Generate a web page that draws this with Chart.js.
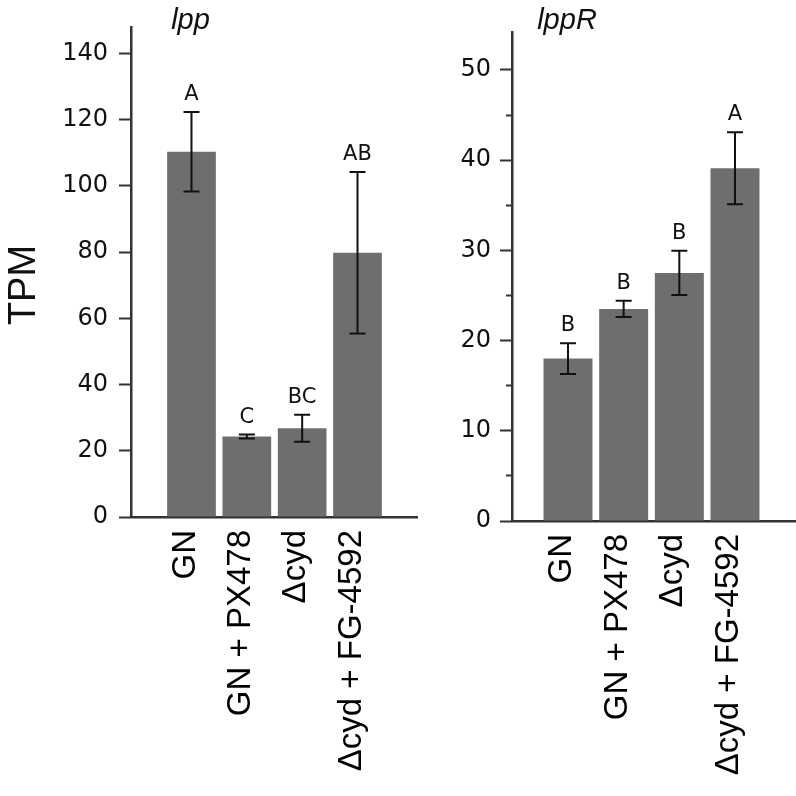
<!DOCTYPE html>
<html>
<head>
<meta charset="utf-8">
<script src="https://cdn.jsdelivr.net/npm/chart.js@4.4.0/dist/chart.umd.min.js"></script>
<style>
html, body { margin: 0; padding: 0; background: #fff; }
#wrap { position: relative; width: 796px; height: 796px; }
#left { position: absolute; left: 0; top: 0; }
#right { position: absolute; left: 420px; top: 0; }
</style>
</head>
<body>
<div id="wrap">
  <canvas id="left" width="420" height="796"></canvas>
  <canvas id="right" width="376" height="796"></canvas>
</div>
<script>
// categories shared by both panels
const categories = ['GN', 'GN + PX478', 'Δcyd', 'Δcyd + FG-4592'];

// lpp panel
const lppMean = [110.3, 24.3, 26.8, 79.8];
const lppErr = [12.0, 0.6, 4.1, 24.4];
const lppLetters = ['A', 'C', 'BC', 'AB'];
const lppTicks = [0, 20, 40, 60, 80, 100, 120, 140];

// lppR panel
const lppRMean = [18.0, 23.5, 27.5, 39.1];
const lppRErr = [1.7, 0.9, 2.45, 4.0];
const lppRLetters = ['B', 'B', 'B', 'A'];
const lppRTicks = [0, 10, 20, 30, 40, 50];
const lppRMinor = [5, 15, 25, 35, 45];

const AXIS = '#333333';
const BAR = '#6e6e6e';

Chart.defaults.font.family = 'DejaVu Sans';
Chart.defaults.color = '#111';

// error bars, significance letters, panel title (and TPM on the left one)
function extras(means, errs, letters, title, yTitle) {
    return {
        id: 'extras',
        afterDatasetsDraw(chart) {
            const ctx = chart.ctx;
            const bars = chart.getDatasetMeta(0).data;
            const y = chart.scales.y;
            ctx.save();
            ctx.strokeStyle = '#111';
            ctx.fillStyle = '#111';
            ctx.lineWidth = 2;
            bars.forEach((bar, i) => {
                const top = y.getPixelForValue(means[i] + errs[i]);
                const bot = y.getPixelForValue(means[i] - errs[i]);
                ctx.beginPath();
                ctx.moveTo(bar.x, top); ctx.lineTo(bar.x, bot);
                ctx.moveTo(bar.x - 8, top); ctx.lineTo(bar.x + 8, top);
                ctx.moveTo(bar.x - 8, bot); ctx.lineTo(bar.x + 8, bot);
                ctx.stroke();
                ctx.font = '21px "DejaVu Sans"';
                ctx.textAlign = 'center';
                ctx.textBaseline = 'alphabetic';
                ctx.fillText(letters[i], bar.x, top - 12);
            });
            ctx.font = 'italic 29px "Liberation Sans"';
            ctx.textAlign = 'center';
            ctx.fillText(title, bars[0].x - 1, 29);
            if (yTitle) {
                ctx.translate(35, 285);
                ctx.rotate(-Math.PI / 2);
                ctx.font = '38px "Liberation Sans"';
                ctx.fillText(yTitle, 0, 0);
            }
            ctx.restore();
        }
    };
}

function makeChart(id, o) {
    return new Chart(document.getElementById(id), {
        type: 'bar',
        data: {
            datasets: [{
                data: o.means.map((v, i) => ({ x: i, y: v })),
                backgroundColor: BAR,
                borderWidth: 0,
                barPercentage: 0.88,
                categoryPercentage: 1.0
            }]
        },
        options: {
            responsive: false,
            animation: false,
            layout: { padding: { top: o.top, right: o.right, left: 0, bottom: 0 } },
            plugins: { legend: { display: false }, tooltip: { enabled: false } },
            scales: {
                x: {
                    type: 'linear',
                    min: o.xmin,
                    max: o.xmax,
                    offset: false,
                    afterBuildTicks: s => { s.ticks = categories.map((c, i) => ({ value: i })); },
                    afterFit: s => { s.height = o.xHeight; },
                    ticks: {
                        callback: (v, i) => categories[i],
                        minRotation: 90,
                        maxRotation: 90,
                        autoSkip: false,
                        padding: 13,
                        labelOffset: -6,
                        color: '#000',
                        font: { family: 'Liberation Sans', size: 33 }
                    },
                    grid: { display: false, drawTicks: false },
                    border: { color: AXIS, width: 2.5 }
                },
                y: {
                    min: 0,
                    max: o.ymax,
                    afterBuildTicks: s => {
                        s.ticks = o.yTicks.concat(o.minor || []).sort((a, b) => a - b).map(v => ({ value: v }));
                    },
                    afterFit: s => { s.width = o.yWidth; },
                    ticks: {
                        padding: o.tickPad,
                        color: '#111',
                        font: { size: 24 },
                        callback: v => o.yTicks.includes(v) ? String(v) : ''
                    },
                    grid: {
                        drawOnChartArea: false,
                        tickLength: 12,
                        tickWidth: 2,
                        tickColor: AXIS,
                        color: AXIS,
                        // minor ticks: only the half next to the axis is drawn
                        tickBorderDash: c => (c.tick && !o.yTicks.includes(c.tick.value)) ? [0, 6, 6, 100] : []
                    },
                    border: { color: AXIS, width: 2.5 }
                }
            }
        },
        plugins: [extras(o.means, o.errs, o.letters, o.title, o.yTitle)]
    });
}

makeChart('left', {
    means: lppMean, errs: lppErr, letters: lppLetters, title: 'lpp', yTitle: 'TPM',
    yTicks: lppTicks, ymax: 148, xmin: -1.093, xmax: 4.075,
    top: 27, right: 3, yWidth: 131, xHeight: 279, tickPad: 11
});

makeChart('right', {
    means: lppRMean, errs: lppRErr, letters: lppRLetters, title: 'lppR',
    yTicks: lppRTicks, minor: lppRMinor, ymax: 54.2, xmin: -1.006, xmax: 4.096,
    top: 32, right: 0, yWidth: 92, xHeight: 275, tickPad: 9
});
</script>
</body>
</html>
